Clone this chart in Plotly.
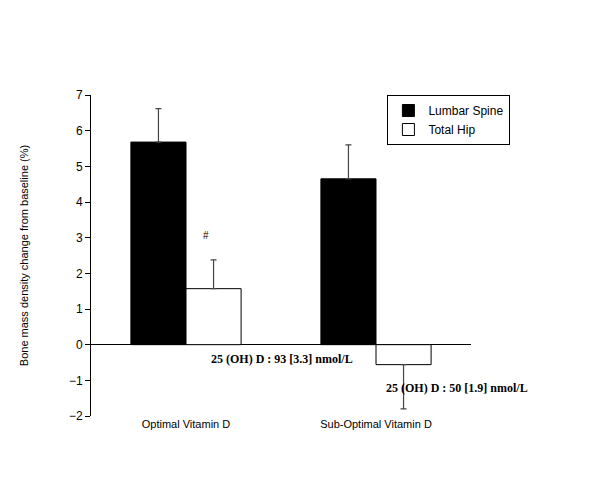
import plotly.graph_objects as go

categories = ["Optimal Vitamin D", "Sub-Optimal Vitamin D"]
lumbar = [5.68, 4.65]
lumbar_err_plus = [0.94, 0.95]
lumbar_err_minus = [0, 0]
hip = [1.57, -0.56]
hip_err_plus = [0.81, 0]
hip_err_minus = [0, 1.24]

fig = go.Figure()
fig.add_bar(x=categories, y=lumbar, name="Lumbar Spine",
            marker=dict(color="black", line=dict(color="black", width=1)),
            error_y=dict(type="data", array=lumbar_err_plus, arrayminus=lumbar_err_minus,
                         symmetric=False, color="#444", thickness=1.2, width=3))
fig.add_bar(x=categories, y=hip, name="Total Hip",
            marker=dict(color="white", line=dict(color="black", width=1)),
            error_y=dict(type="data", array=hip_err_plus, arrayminus=hip_err_minus,
                         symmetric=False, color="#444", thickness=1.2, width=3))

fig.update_layout(
    width=600, height=500, paper_bgcolor="white", plot_bgcolor="white",
    margin=dict(l=83, r=137, t=87, b=92),
    barmode="group", bargap=0.42, bargroupgap=0,
    font=dict(family="Liberation Sans, Arial", size=11, color="black"),
    showlegend=True,
    legend=dict(x=0.78, y=1.0, xanchor="left", yanchor="top",
                bordercolor="black", borderwidth=1, bgcolor="white",
                font=dict(size=12), tracegroupgap=0, itemwidth=30),
    xaxis=dict(range=[-0.5, 1.5], showline=False, ticks="", tickfont=dict(size=11), showgrid=False),
    yaxis=dict(range=[-2, 7], dtick=1, showline=True, linecolor="black", linewidth=1,
               ticks="outside", ticklen=5, tickcolor="black", showgrid=False,
               zeroline=True, zerolinecolor="black", zerolinewidth=1,
               tickfont=dict(size=12),
               title=dict(text="Bone mass density change from baseline (%)",
                          font=dict(size=11), standoff=38)),
    annotations=[
        dict(x=0.31, xref="paper", y=-0.4, text="<b>25 (OH) D : 93 [3.3] nmol/L</b>",
             showarrow=False, font=dict(family="Liberation Serif, Times New Roman", size=12)),
        dict(x=0.77, xref="paper", xanchor="left", y=-1.22, text="<b>25 (OH) D : 50 [1.9] nmol/L</b>",
             showarrow=False, font=dict(family="Liberation Serif, Times New Roman", size=12)),
        dict(x=0.29, xref="paper", y=3.05, text="#", showarrow=False, font=dict(size=10)),
    ],
)
fig.write_html("out.html")
